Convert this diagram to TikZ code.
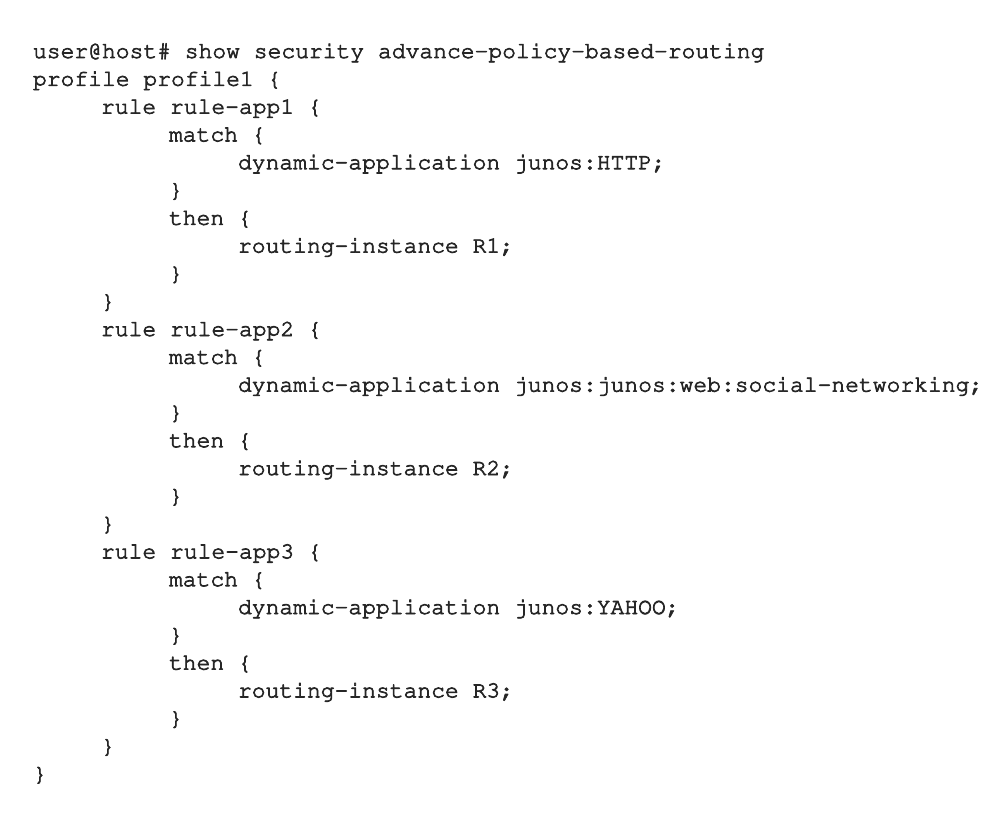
\documentclass[tikz,border=0pt]{standalone}
\usepackage[T1]{fontenc}
\renewcommand{\ttdefault}{pcr}
\definecolor{codeink}{HTML}{262626}
\newcommand{\heavytext}[1]{\special{pdf:literal direct 2 Tr 0.7 w 1 j}#1\special{pdf:literal direct 0 Tr}}
\begin{document}
\begin{tikzpicture}[x=1pt,y=-1pt,
  codeline/.style={anchor=base west,inner sep=0pt,outer sep=0pt,text=codeink,
    font=\ttfamily\fontsize{23}{23}\selectfont}]
\fill[white] (0,0) rectangle (1008,821);
\useasboundingbox (0,0) rectangle (1008,821);
\def\dy{27.8}
\def\ya{58}
\node[codeline] (l1)  at (33, {\ya+0*\dy})  {\heavytext{user@host\# show security advance-policy-based-routing}};
\node[codeline] (l2)  at (33, {\ya+1*\dy})  {\heavytext{profile profile1 \{}};
\node[codeline] (l3)  at (101,{\ya+2*\dy})  {\heavytext{rule rule-app1 \{}};
\node[codeline] (l4)  at (169,{\ya+3*\dy})  {\heavytext{match \{}};
\node[codeline] (l5)  at (238,{\ya+4*\dy})  {\heavytext{dynamic-application junos:HTTP;}};
\node[codeline] (l6)  at (169,{\ya+5*\dy})  {\heavytext{\}}};
\node[codeline] (l7)  at (169,{\ya+6*\dy})  {\heavytext{then \{}};
\node[codeline] (l8)  at (238,{\ya+7*\dy})  {\heavytext{routing-instance R1;}};
\node[codeline] (l9)  at (169,{\ya+8*\dy})  {\heavytext{\}}};
\node[codeline] (l10) at (101,{\ya+9*\dy})  {\heavytext{\}}};
\node[codeline] (l11) at (101,{\ya+10*\dy}) {\heavytext{rule rule-app2 \{}};
\node[codeline] (l12) at (169,{\ya+11*\dy}) {\heavytext{match \{}};
\node[codeline] (l13) at (238,{\ya+12*\dy}) {\heavytext{dynamic-application junos:junos:web:social-networking;}};
\node[codeline] (l14) at (169,{\ya+13*\dy}) {\heavytext{\}}};
\node[codeline] (l15) at (169,{\ya+14*\dy}) {\heavytext{then \{}};
\node[codeline] (l16) at (238,{\ya+15*\dy}) {\heavytext{routing-instance R2;}};
\node[codeline] (l17) at (169,{\ya+16*\dy}) {\heavytext{\}}};
\node[codeline] (l18) at (101,{\ya+17*\dy}) {\heavytext{\}}};
\node[codeline] (l19) at (101,{\ya+18*\dy}) {\heavytext{rule rule-app3 \{}};
\node[codeline] (l20) at (169,{\ya+19*\dy}) {\heavytext{match \{}};
\node[codeline] (l21) at (238,{\ya+20*\dy}) {\heavytext{dynamic-application junos:YAHOO;}};
\node[codeline] (l22) at (169,{\ya+21*\dy}) {\heavytext{\}}};
\node[codeline] (l23) at (169,{\ya+22*\dy}) {\heavytext{then \{}};
\node[codeline] (l24) at (238,{\ya+23*\dy}) {\heavytext{routing-instance R3;}};
\node[codeline] (l25) at (169,{\ya+24*\dy}) {\heavytext{\}}};
\node[codeline] (l26) at (101,{\ya+25*\dy}) {\heavytext{\}}};
\node[codeline] (l27) at (33, {\ya+26*\dy}) {\heavytext{\}}};
\end{tikzpicture}
\end{document}
